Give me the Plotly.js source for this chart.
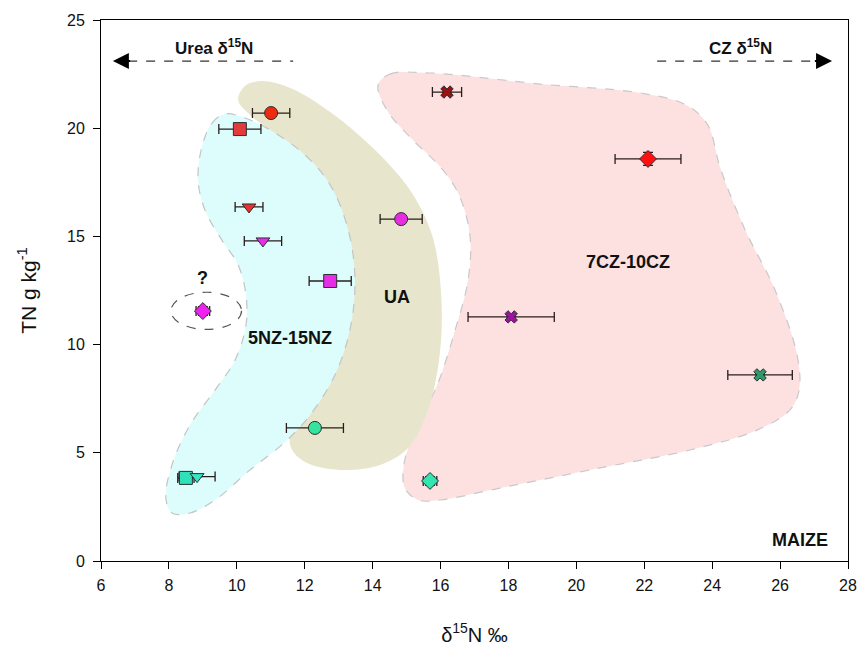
<!DOCTYPE html>
<html>
<head>
<meta charset="utf-8">
<script src="https://cdn.plot.ly/plotly-3.0.1.min.js"></script>
<style>html,body{margin:0;padding:0;background:#fff;}#chart{width:863px;height:655px;}</style>
</head>
<body>
<div id="chart"></div>
<script>
// ---- data (δ15N ‰, TN g kg-1, SE) ----
const xVals = [11.01, 10.09, 10.36, 10.77, 12.75, 9.0, 14.84, 16.19, 22.11, 18.08, 25.41, 15.69, 12.30, 8.50, 8.83];
const yVals = [20.70, 19.96, 16.36, 14.79, 12.94, 11.55, 15.80, 21.67, 18.58, 11.28, 8.60, 3.70, 6.15, 3.84, 3.90];
const xErr  = [0.55, 0.62, 0.41, 0.55, 0.62, 0.20, 0.62, 0.43, 0.97, 1.27, 0.95, 0.20, 0.84, 0.24, 0.53];
const yErr  = [null, null, null, null, null, 0.20, null, null, 0.30, null, null, 0.20, null, null, null];
const symbols = ['circle','square','triangle-down','triangle-down','square','diamond','circle','x','diamond','x','x','diamond','circle','square','triangle-down'];
const colors  = ['#ee2a10','#e23b3b','#e83030','#e62ee6','#e62ee6','#f020f0','#e62ee0','#9b1010','#ff1010','#a010a0','#2e9a6a','#33e6b0','#36e39c','#30e0b8','#33e6c8'];

// region outlines (δ15N ‰, TN g kg-1)
const cyanX = [8.97, 9.27, 9.65, 10.24, 10.98, 12.01, 12.75, 13.28, 13.48, 13.33, 12.89, 12.16, 11.42, 10.39, 9.36, 8.62, 8.09, 7.91, 8.09, 8.62, 9.36, 9.95, 10.27, 10.27, 10.04, 9.56, 9.06, 8.86, 8.97];
const cyanY = [19.13, 20.24, 20.66, 20.47, 19.92, 18.76, 17.38, 15.30, 12.98, 10.67, 8.60, 6.75, 5.50, 4.21, 2.82, 2.22, 2.22, 2.91, 4.44, 6.28, 7.90, 9.29, 10.91, 12.29, 13.68, 14.83, 16.22, 17.61, 19.13];
const oliveX = [10.04, 10.24, 10.74, 11.57, 12.75, 14.07, 15.10, 15.75, 16.01, 15.99, 15.63, 15.04, 14.22, 13.04, 12.01, 11.57, 11.86, 12.45, 12.75, 12.60, 12.01, 11.13, 10.39, 10.04];
const oliveY = [21.30, 21.95, 22.18, 21.86, 20.75, 18.99, 17.14, 15.06, 12.52, 9.75, 6.98, 5.22, 4.44, 4.21, 4.57, 5.36, 7.44, 9.75, 12.52, 15.30, 17.84, 19.69, 20.61, 21.30];
const pinkX = [14.16, 14.51, 15.69, 18.93, 21.88, 23.20, 23.85, 24.25, 24.97, 25.85, 26.50, 26.56, 26.29, 25.32, 23.35, 20.70, 17.75, 15.99, 15.34, 14.95, 14.92, 15.25, 15.90, 16.43, 16.81, 16.87, 16.57, 16.07, 15.10, 14.42, 14.16];
const pinkY = [22.00, 22.50, 22.55, 22.04, 21.63, 21.10, 20.20, 18.10, 15.30, 12.52, 9.52, 7.90, 6.98, 6.05, 5.13, 4.30, 3.37, 2.82, 2.82, 3.37, 4.44, 6.05, 8.13, 10.67, 12.98, 14.97, 16.82, 18.07, 19.59, 20.84, 22.00];

const xTicks = [6, 8, 10, 12, 14, 16, 18, 20, 22, 24, 26, 28];
const yTicks = [0, 5, 10, 15, 20, 25];

const FONT = 'Liberation Sans, Arial, Helvetica, sans-serif';

function region(x, y, fill, lineColor, dash) {
  return {x: x, y: y, type: 'scatter', mode: 'lines', fill: 'toself', fillcolor: fill,
    line: {shape: 'spline', smoothing: 1, color: lineColor, width: lineColor === 'rgba(0,0,0,0)' ? 0 : 1.2, dash: dash},
    hoverinfo: 'skip', showlegend: false};
}

const sizes = symbols.map(s => s === 'x' ? 11 : (s === 'triangle-down' ? 12 : 13));

const traces = [
  region(pinkX, pinkY, '#fde1e1', '#c9c9c9', 'dash'),
  region(oliveX, oliveY, '#e7e6cc', 'rgba(0,0,0,0)', 'solid'),
  region(cyanX, cyanY, '#ddfcfc', '#c4c4c4', 'dash'),
  {
    x: xVals, y: yVals, type: 'scatter', mode: 'markers', showlegend: false,
    marker: {symbol: symbols, color: colors, size: sizes, opacity: 1, line: {color: '#2a3030', width: 1}},
    error_x: {type: 'data', array: xErr, visible: true, color: '#2a1c1c', thickness: 1.3, width: 5},
    error_y: {type: 'data', array: yErr, visible: true, color: '#2a1c1c', thickness: 1.3, width: 5}
  }
];

const layout = {
  width: 863, height: 655,
  margin: {l: 101, r: 15, t: 20, b: 94},
  paper_bgcolor: '#fff', plot_bgcolor: '#fff',
  font: {family: FONT, color: '#111'},
  xaxis: {range: [6, 28], tickvals: xTicks, ticktext: xTicks.map(String), ticks: 'outside', ticklen: 7, tickcolor: '#000',
    ticklabelstandoff: 3,
    showline: true, linecolor: '#000', linewidth: 1, mirror: true, showgrid: false, zeroline: false,
    tickfont: {size: 16, family: FONT, color: '#111'},
    title: {text: 'δ<sup>15</sup>N ‰', font: {size: 20, family: FONT, color: '#111'}, standoff: 34}},
  yaxis: {range: [0, 25], tickvals: yTicks, ticktext: yTicks.map(String), ticks: 'outside', ticklen: 7, tickcolor: '#000',
    ticklabelstandoff: 5,
    showline: true, linecolor: '#000', linewidth: 1, mirror: true, showgrid: false, zeroline: false,
    tickfont: {size: 16, family: FONT, color: '#111'},
    title: {text: 'TN g kg<sup>-1</sup>', font: {size: 21, family: FONT, color: '#111'}, standoff: 24}},
  shapes: [
    {type: 'line', xref: 'x', yref: 'y', x0: 6.8, x1: 11.66, y0: 23.1, y1: 23.1, line: {color: '#333', width: 1.2, dash: 'dash'}},
    {type: 'line', xref: 'x', yref: 'y', x0: 22.38, x1: 27.1, y0: 23.1, y1: 23.1, line: {color: '#333', width: 1.2, dash: 'dash'}},
    {type: 'circle', xref: 'x', yref: 'y', x0: 8.06, x1: 10.14, y0: 10.70, y1: 12.42, line: {color: '#555', width: 1.2, dash: 'dash'}, layer: 'above'}
  ],
  annotations: [
    {x: 6.35, y: 23.1, ax: 6.9, ay: 23.1, xref: 'x', yref: 'y', axref: 'x', ayref: 'y', text: '', showarrow: true, arrowhead: 2, arrowsize: 1.6, arrowwidth: 2, arrowcolor: '#000'},
    {x: 27.53, y: 23.1, ax: 26.98, ay: 23.1, xref: 'x', yref: 'y', axref: 'x', ayref: 'y', text: '', showarrow: true, arrowhead: 2, arrowsize: 1.6, arrowwidth: 2, arrowcolor: '#000'},
    {x: 9.34, y: 23.75, xref: 'x', yref: 'y', text: '<b>Urea δ<sup>15</sup>N</b>', showarrow: false, font: {size: 17, family: FONT, color: '#111'}},
    {x: 24.82, y: 23.75, xref: 'x', yref: 'y', text: '<b>CZ δ<sup>15</sup>N</b>', showarrow: false, font: {size: 17, family: FONT, color: '#111'}},
    {x: 9.0, y: 13.1, xref: 'x', yref: 'y', text: '<b>?</b>', showarrow: false, font: {size: 18, family: FONT, color: '#111'}},
    {x: 11.57, y: 10.3, xref: 'x', yref: 'y', text: '<b>5NZ-15NZ</b>', showarrow: false, font: {size: 18, family: FONT, color: '#111'}},
    {x: 14.72, y: 12.2, xref: 'x', yref: 'y', text: '<b>UA</b>', showarrow: false, font: {size: 18, family: FONT, color: '#111'}},
    {x: 21.52, y: 13.82, xref: 'x', yref: 'y', text: '<b>7CZ-10CZ</b>', showarrow: false, font: {size: 18, family: FONT, color: '#111'}},
    {x: 26.6, y: 0.97, xref: 'x', yref: 'y', text: '<b>MAIZE</b>', showarrow: false, font: {size: 18, family: FONT, color: '#111'}}
  ]
};

Plotly.newPlot('chart', traces, layout, {displayModeBar: false, staticPlot: true});
</script>
</body>
</html>
